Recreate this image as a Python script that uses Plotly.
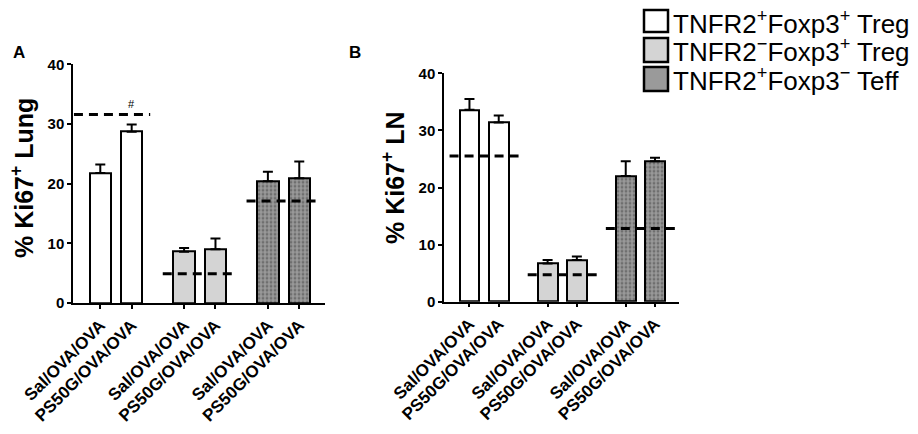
import plotly.graph_objects as go

# ---------------- data ----------------
categories = ["Sal/OVA/OVA", "PS50G/OVA/OVA"] * 3
groups = ["TNFR2<sup>+</sup>Foxp3<sup>+</sup> Treg",
          "TNFR2<sup>−</sup>Foxp3<sup>+</sup> Treg",
          "TNFR2<sup>+</sup>Foxp3<sup>−</sup> Teff"]

lung_values = [21.8, 28.7, 8.6, 9.0, 20.4, 20.9]
lung_err    = [1.4, 1.2, 0.6, 1.8, 1.6, 2.8]
lung_dash   = [31.6, 4.9, 17.1]

ln_values = [33.6, 31.4, 6.7, 7.3, 22.0, 24.6]
ln_err    = [1.9, 1.2, 0.6, 0.6, 2.6, 0.6]
ln_dash   = [25.5, 4.7, 12.8]

y_ticks = [0, 10, 20, 30, 40]

# ---------------- layout helpers ----------------
W, H = 918, 434
FONT = "Arial, Liberation Sans, sans-serif"
GSTEP = 2.67
pos = [g * GSTEP + k for g in range(3) for k in range(2)]
xrange_ = [-0.87, 6.34 + 0.82]

fills = ["white", "#d4d4d4", "#9a9a9a"]

def px2x(p):
    return p / W

def px2y(p):
    return 1 - p / H

panels = [
    dict(vals=lung_values, err=lung_err, dash=lung_dash, xa="x", ya="y",
         xd=[px2x(73), px2x(325)], yd=[px2y(303), px2y(64.3)],
         title="% Ki67<sup>+</sup> Lung", tpos=(22, 178), label="A", lpos=(19, 52),
         dash_span=[(-0.84, 1.59), None, None]),
    dict(vals=ln_values, err=ln_err, dash=ln_dash, xa="x2", ya="y2",
         xd=[px2x(444), px2x(679)], yd=[px2y(301.7), px2y(73.3)],
         title="% Ki67<sup>+</sup> LN", tpos=(393, 178), label="B", lpos=(355, 53),
         dash_span=[None, None, None]),
]

fig = go.Figure()
shapes = []
annotations = []

for p in panels:
    colors = [fills[i // 2] for i in range(6)]
    pattern_shapes = ["" if i < 4 else "." for i in range(6)]
    fig.add_trace(go.Bar(
        x=pos, y=p["vals"], width=0.68, xaxis=p["xa"], yaxis=p["ya"],
        marker=dict(color=colors, line=dict(color="black", width=2),
                    pattern=dict(shape=pattern_shapes, fgcolor="#3a3a3a",
                                 size=4, solidity=0.4, fillmode="overlay")),
        error_y=dict(type="data", array=p["err"], arrayminus=[0] * 6,
                     symmetric=False, color="black", thickness=2, width=5),
        showlegend=False, hoverinfo="skip",
    ))
    # dashed reference lines
    for g, lvl in enumerate(p["dash"]):
        c = g * GSTEP + 0.5
        span = p["dash_span"][g] or (c - 1.18, c + 1.18)
        shapes.append(dict(type="line", xref=p["xa"], yref=p["ya"],
                           x0=span[0], x1=span[1], y0=lvl, y1=lvl,
                           line=dict(color="black", width=3, dash="9px,6px")))
    annotations.append(dict(text=p["title"], textangle=-90, showarrow=False,
                            xref="paper", yref="paper",
                            x=px2x(p["tpos"][0]), y=px2y(p["tpos"][1]),
                            xanchor="center", yanchor="middle",
                            font=dict(family=FONT, size=25, color="black", weight="bold")))
    annotations.append(dict(text="<b>%s</b>" % p["label"], showarrow=False,
                            xref="paper", yref="paper",
                            x=px2x(p["lpos"][0]), y=px2y(p["lpos"][1]),
                            xanchor="center", yanchor="middle",
                            font=dict(family=FONT, size=17, color="black")))

# "#" marker above bar 2 in panel A
annotations.append(dict(text="#", x=pos[1], y=lung_values[1] + lung_err[1] + 3.4,
                        xref="x", yref="y", showarrow=False,
                        font=dict(family=FONT, size=11, color="black")))

# legend (manual)
rows = [(10, 32), (38, 62), (67, 91)]
for i, (t, b) in enumerate(rows):
    shapes.append(dict(type="rect", xref="paper", yref="paper",
                       x0=px2x(644), x1=px2x(668), y0=px2y(b), y1=px2y(t),
                       fillcolor=fills[i], line=dict(color="black", width=2.5)))
    annotations.append(dict(text=groups[i], showarrow=False, xref="paper", yref="paper",
                            x=px2x(671), y=px2y((t + b) / 2 + 1), xanchor="left",
                            yanchor="middle",
                            font=dict(family=FONT, size=26, color="black")))

axis_common = dict(showline=True, linecolor="black", linewidth=1.5, ticks="outside",
                   ticklen=4, tickwidth=1.5, tickcolor="black", showgrid=False,
                   zeroline=False, automargin=False)

for p, xname, yname in [(panels[0], "xaxis", "yaxis"), (panels[1], "xaxis2", "yaxis2")]:
    fig.layout[xname] = dict(domain=p["xd"], range=xrange_, tickvals=pos,
                             ticktext=categories, tickangle=-45,
                             anchor=p["ya"],
                             tickfont=dict(family=FONT, size=17, color="black", weight="bold"),
                             **axis_common)
    fig.layout[yname] = dict(domain=p["yd"], range=[0, 40], tickvals=y_ticks,
                             anchor=p["xa"],
                             tickfont=dict(family=FONT, size=15, color="black", weight="bold"),
                             **axis_common)

fig.update_layout(width=W, height=H, margin=dict(l=0, r=0, t=0, b=0),
                  plot_bgcolor="white", paper_bgcolor="white",
                  shapes=shapes, annotations=annotations, bargap=0)

fig.write_html("out.html", config={"displayModeBar": False},
               post_script="document.body.style.margin='0';document.body.style.overflow='hidden';")
